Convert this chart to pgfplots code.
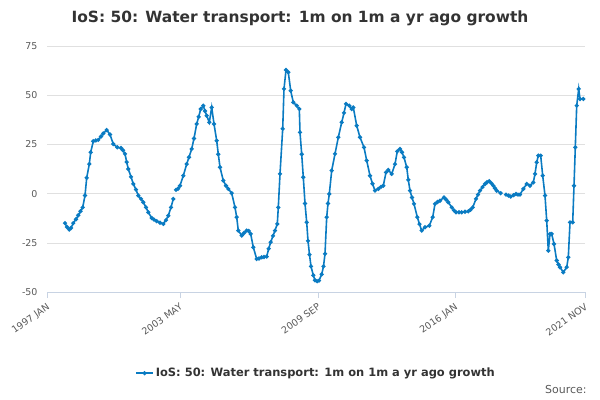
\documentclass[border=0pt]{standalone}
\usepackage{pgfplots}
\pgfplotsset{compat=1.18}
\usepackage{fontspec}
\setmainfont{DejaVu Sans}
\definecolor{ser}{HTML}{0A7BC2}
\definecolor{axc}{HTML}{C8D3E3}
\begin{document}
\begin{tikzpicture}
\useasboundingbox (0,0) rectangle (600bp,-400bp);
\node[font=\fontsize{15.5}{17}\selectfont\bfseries, text=black!80] at (300bp,-18bp) {IoS: 50: Water transport: 1m on 1m a yr ago growth};
\node[anchor=east, font=\fontsize{11}{12}\selectfont, text=black!65] at (590bp,-390bp) {Source:};
\begin{axis}[
  at={(47bp,-292bp)}, anchor=south west,
  scale only axis, width=538bp, height=246bp,
  xmin=47, xmax=585, ymin=-50, ymax=75,
  ytick={-50,-25,0,25,50,75},
  xtick={47,180,318,455,585},
  xticklabels={1997 JAN,2003 MAY,2009 SEP,2016 JAN,2021 NOV},
  xticklabel style={rotate=35, anchor=north east, font=\fontsize{9.5}{10}\selectfont, text=black!65},
  yticklabel style={font=\fontsize{9.5}{10}\selectfont, text=black!65},
  /pgf/number format/assume math mode=true,
  ymajorgrids, grid style={black!12},
  axis y line*=left, y axis line style={draw=none},
  axis x line*=bottom, x axis line style={axc},
  major tick length=6bp,
  xtick style={axc}, ytick style={draw=none},
  xtick pos=bottom, tick align=outside,
  unbounded coords=jump,
  legend style={at={(0.5,-0.33)}, anchor=center, draw=none, font=\fontsize{11.5}{12}\selectfont\bfseries, text=black!80},
  legend cell align=left,
]
\addplot[ser, line width=1.6pt, mark=*, mark size=1.2pt] coordinates {
(65,-15)(67,-17)(69.3,-18.3)(71,-17.5)(73.3,-15)(76,-13)(78.3,-11)(80.5,-9)(82.7,-7)(85,-1)(86.7,8)(89.3,15)(90.7,21)(93.3,26.6)(95.8,27)(98.3,27.3)(101,29)(103.3,30.6)(106.7,32.3)(110,30)(113.3,25.2)(117.3,23.5)(121,23.2)(123,22)(125,20.2)(126.7,16)(128.3,12.5)(131,8.5)(133.3,4.9)(136,2)(138.3,-1)(141,-2.7)(143.3,-4.4)(146,-7)(148.3,-9.5)(151.7,-12.4)(154,-13.2)(156.7,-14)(160,-14.8)(163.3,-15.4)(166,-13.5)(168.3,-11.2)(171,-7)(173.3,-2.7)
(174.5,nan)
(176,1.9)(178,2.5)(180,4)(183.3,9.1)(186.7,15)(189,18.5)(191.7,22.7)(194,28)(196.7,35.4)(198.7,39)(200.7,43)(203.3,44.7)(205,42)(206.7,39.6)(209.3,36.2)(211.7,43.8)(214,35.4)(216.7,26.9)(218.3,20)(220,13.4)(223.3,6.6)(226,4)(228.3,2.4)(231.7,0.2)(235,-7)(236.7,-12)(238.3,-18.8)(241.7,-21.3)(244,-20)(246.7,-18.8)(248.7,-19)(250.7,-20.5)(253.3,-27.3)(256.7,-33.2)(259,-33)(261.7,-32.4)(264,-32.2)(266.7,-32)(268.7,-28)(270.7,-24.7)(273,-21.5)(275,-18.8)(277.3,-15.4)(278.3,-7)(280,10)(282.7,32.9)(284,53.2)(286,62.8)(288.3,61.6)(290.7,52.3)(293.3,46.4)(296.7,44.7)(299.3,43)(300,31.1)(301.7,20)(303.3,8.3)(305,-5)(306.7,-14.6)(308,-24)(309.5,-31)(311,-37)(313.3,-41.5)(315,-44)(317,-44.5)(319,-44.2)(321.7,-41)(323.5,-37)(325,-30.6)(326.7,-12)(328,-5)(329.3,-0.2)(331.7,11.7)(335,20.2)(338.3,28.6)(341.7,36.2)(344,41)(346,45.6)(349.3,44.7)(351.7,43)(353.3,43.8)(356.7,34.5)(360,28.6)(364,23.5)(366.7,16.8)(370,9.1)(372.5,5)(375,1.5)(378.3,2.4)(381,3.4)(383.3,4)(386,10.8)(388.3,12)(391.7,10)(395,15)(397.3,21.5)(400,22.7)(402,21)(404,18.4)(406.7,13.4)(408.3,7)(410,1.5)(412,-2)(414,-5.2)(417.3,-12)(419.5,-15.5)(421.7,-18.8)(425,-17.1)(429.3,-16.3)(432.7,-12)(435,-5.2)(437.5,-4.3)(440,-3.6)(444,-1.9)(446,-3)(448.3,-4.4)(451.7,-7)(454,-8.5)(456,-9.5)(459,-9.5)(461.7,-9.5)(465,-9.2)(468.3,-9)(470.5,-8.2)(472.7,-7)(476,-2.7)(478,-0.5)(480,1.5)(482.5,3.3)(485,4.9)(487,5.8)(489.3,6.3)(491.5,5.2)(493.3,4)(495,2.7)(496.7,1.5)(500.7,0.2)
(503,nan)
(506,-0.5)(508.5,-1)(510.7,-1.5)(513.5,-0.8)(516,-0.2)(518,-0.5)(520,-0.5)(523.3,2.4)(526.7,4.9)(530,4)(533.3,5.7)(535,10)(536.7,15.9)(538.3,19.3)(540.7,19.3)(542.7,9.1)(545,-1)(546.7,-13.7)(548.3,-29)(550,-20.5)(551.7,-20.5)(554,-25.6)(556.7,-34)(558.5,-36)(560,-37.4)(563.3,-40)(566.7,-37.4)(568.3,-32.4)(570,-14.6)(572.7,-14.6)(574,4)(575.3,23.5)(576.7,44.7)(578.7,53.2)(580,48.1)(583.3,48.1)
};
\addlegendentry{IoS: 50: Water transport: 1m on 1m a yr ago growth}
\end{axis}
\end{tikzpicture}
\end{document}
